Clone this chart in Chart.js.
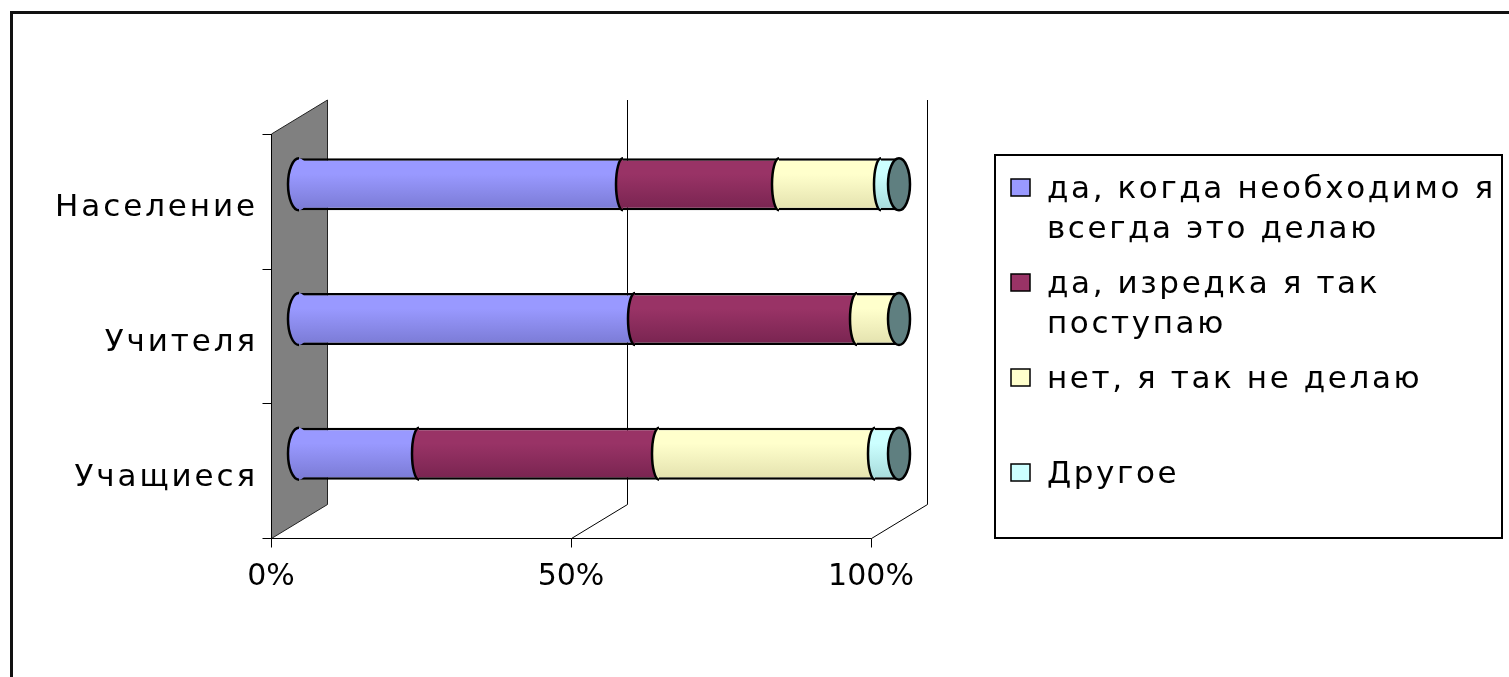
<!DOCTYPE html>
<html>
<head>
<meta charset="utf-8">
<script src="https://cdn.jsdelivr.net/npm/chart.js@4"></script>
<style>
  html, body { margin: 0; padding: 0; background: #fff; }
  canvas { display: block; }
</style>
</head>
<body>
<canvas id="chart" width="1509" height="677"></canvas>
<script>
// values (percent of answers)
const categories = ["Население", "Учителя", "Учащиеся"];
const seriesNames = [
    "да, когда необходимо я всегда это делаю",
    "да, изредка я так поступаю",
    "нет, я так не делаю",
    "Другое"
];
const alwaysValues = [54, 56, 20];
const rarelyValues = [26, 37, 40];
const neverValues = [17, 7, 36];
const otherValues = [3, 0, 4];
const xTicks = [0, 50, 100];

const seriesColors = ["#9999FF", "#993366", "#FFFFCC", "#CCFFFF"];
const seriesShades = ["#7A7AD4", "#782450", "#E3E1AE", "#A6DADA"];
const capColor = "#5F7F80";

const FONT = "DejaVu Sans";
const DX = 28;          // half depth of the 3d box, x
const DY = 17;          // half depth of the 3d box, y
const barShare = 0.386;

function barFill(j){
    return function(context){
        const chart = context.chart;
        const yScale = chart.scales.y;
        if(context.type !== "data" || !yScale){
            return seriesColors[j];
        }
        const band = yScale.height / categories.length;
        const yc = yScale.getPixelForValue(context.dataIndex);
        const half = band * barShare / 2;
        if(!isFinite(yc) || !isFinite(half)){
            return seriesColors[j];
        }
        const g = chart.ctx.createLinearGradient(0, yc - half, 0, yc + half);
        g.addColorStop(0, seriesColors[j]);
        g.addColorStop(0.3, seriesColors[j]);
        g.addColorStop(1, seriesShades[j]);
        return g;
    };
}

function line(ctx, x1, y1, x2, y2){
    ctx.beginPath();
    ctx.moveTo(x1, y1);
    ctx.lineTo(x2, y2);
    ctx.stroke();
}

const framePlugin = {
    id: "frame3d",
    beforeDraw(chart){
        const ctx = chart.ctx;
        ctx.save();
        ctx.strokeStyle = "#111";
        ctx.lineWidth = 3;
        line(ctx, 11.5, 11, 11.5, chart.height);
        line(ctx, 10, 12.5, chart.width, 12.5);
        ctx.restore();
        // y labels are spaced wide like the original
        ctx.letterSpacing = "2.9px";
    },
    beforeDatasetsDraw(chart){
        const ctx = chart.ctx;
        const x = chart.scales.x;
        const a = chart.chartArea;
        const fx = v => Math.round(x.getPixelForValue(v) - DX) + 0.5;
        const bx = v => Math.round(x.getPixelForValue(v) + DX) + 0.5;
        const frontTop = a.top + DY, backTop = a.top - DY;
        const frontBottom = Math.round(a.bottom + DY) + 0.5;
        const backBottom = Math.round(a.bottom - DY) + 0.5;

        ctx.save();
        // side wall
        ctx.fillStyle = "#808080";
        ctx.strokeStyle = "#222";
        ctx.lineWidth = 1;
        ctx.beginPath();
        ctx.moveTo(fx(0), frontTop);
        ctx.lineTo(bx(0), backTop);
        ctx.lineTo(bx(0), backBottom);
        ctx.lineTo(fx(0), frontBottom);
        ctx.closePath();
        ctx.fill();
        ctx.stroke();

        // grid lines on the back wall and floor
        ctx.strokeStyle = "#000";
        xTicks.forEach(v => {
            if(v > 0){
                line(ctx, bx(v), backTop, bx(v), backBottom);
                line(ctx, bx(v), backBottom, fx(v), frontBottom);
            }
            line(ctx, fx(v), frontBottom, fx(v), frontBottom + 9);
        });

        // front axis lines
        line(ctx, fx(0), frontTop, fx(0), frontBottom);
        line(ctx, fx(0), frontBottom, fx(xTicks[xTicks.length - 1]), frontBottom);
        const band = (a.bottom - a.top) / categories.length;
        for(let i = 0; i <= categories.length; i++){
            const yy = Math.round(a.top + DY + band * i) + 0.5;
            line(ctx, fx(0) - 9, yy, fx(0), yy);
        }
        ctx.restore();
    },
    afterDatasetsDraw(chart){
        const ctx = chart.ctx;
        const x = chart.scales.x;
        const sets = chart.data.datasets;
        const metas = sets.map((d, j) => chart.getDatasetMeta(j));

        ctx.save();
        ctx.strokeStyle = "#000";
        ctx.lineWidth = 2.5;
        categories.forEach((c, i) => {
            const first = metas[0].data[i];
            const yc = first.y;
            const ry = first.height / 2;
            let cum = 0;

            // left end of the cylinder
            const x0 = x.getPixelForValue(0);
            ctx.fillStyle = first.options.backgroundColor;
            ctx.beginPath();
            ctx.ellipse(x0, yc, 11, ry, 0, 0, Math.PI * 2);
            ctx.fill();
            ctx.beginPath();
            ctx.ellipse(x0, yc, 11, ry, 0, Math.PI / 2, Math.PI * 1.5);
            ctx.stroke();

            // curved joins between pieces
            sets.forEach((ds, j) => {
                const v = ds.data[i];
                if(j > 0 && v > 0 && cum > 0){
                    const b = x.getPixelForValue(cum);
                    ctx.fillStyle = metas[j].data[i].options.backgroundColor;
                    ctx.beginPath();
                    ctx.ellipse(b, yc, 7, ry, 0, Math.PI / 2, Math.PI * 1.5);
                    ctx.closePath();
                    ctx.fill();
                    ctx.beginPath();
                    ctx.ellipse(b, yc, 7, ry, 0, Math.PI / 2, Math.PI * 1.5);
                    ctx.stroke();
                }
                cum += v;
            });

            // right end cap
            ctx.fillStyle = capColor;
            ctx.beginPath();
            ctx.ellipse(x.getPixelForValue(cum), yc, 11, ry, 0, 0, Math.PI * 2);
            ctx.fill();
            ctx.stroke();
        });
        ctx.restore();
        // x labels are drawn after this, without extra spacing
        ctx.letterSpacing = "0px";
    },
    afterDraw(chart){
        const ctx = chart.ctx;
        const left = 995, top = 155, right = 1502, bottom = 538;
        ctx.save();
        ctx.letterSpacing = "2.6px";
        ctx.strokeStyle = "#000";
        ctx.lineWidth = 2;
        ctx.strokeRect(left, top, right - left, bottom - top);
        ctx.font = "31px '" + FONT + "'";
        ctx.textBaseline = "alphabetic";
        ctx.textAlign = "left";
        chart.data.datasets.forEach((ds, j) => {
            const base = 198 + 95 * j;
            ctx.fillStyle = seriesColors[j];
            ctx.fillRect(1011, base - 19, 19, 17);
            ctx.lineWidth = 1.5;
            ctx.strokeRect(1011, base - 19, 19, 17);

            // simple word wrap
            const words = ds.label.split(" ");
            const lines = [];
            let cur = "";
            words.forEach(w => {
                const t = cur ? cur + " " + w : w;
                if(cur && ctx.measureText(t).width > right - 1047 + 20){
                    lines.push(cur);
                    cur = w;
                }else{
                    cur = t;
                }
            });
            lines.push(cur);
            ctx.fillStyle = "#000";
            lines.forEach((t, k) => ctx.fillText(t, 1047, base + 40 * k));
        });
        ctx.restore();
    }
};

const valueSets = [alwaysValues, rarelyValues, neverValues, otherValues];

new Chart(document.getElementById("chart"), {
    type: "bar",
    data: {
        labels: categories,
        datasets: valueSets.map((vals, j) => ({
            label: seriesNames[j],
            data: vals,
            backgroundColor: barFill(j),
            borderColor: "#000",
            borderWidth: 2.5,
            borderSkipped: "middle",
            barPercentage: barShare,
            categoryPercentage: 1,
            stack: "all"
        }))
    },
    options: {
        indexAxis: "y",
        responsive: false,
        animation: false,
        layout: {
            padding: { top: 117, right: 610, bottom: 0, left: 0 }
        },
        plugins: {
            legend: { display: false },
            tooltip: { enabled: false }
        },
        scales: {
            x: {
                stacked: true,
                min: 0,
                max: 100,
                z: 1,
                grid: { display: false, drawTicks: false },
                border: { display: false },
                afterBuildTicks: s => { s.ticks = xTicks.map(v => ({ value: v })); },
                afterFit: s => { s.height = 156; },
                ticks: {
                    z: 1,
                    maxRotation: 0,
                    autoSkip: false,
                    padding: 38,
                    labelOffset: -DX,
                    color: "#000",
                    font: { family: FONT, size: 30 },
                    callback: v => v + "%"
                }
            },
            y: {
                stacked: true,
                grid: { display: false, drawTicks: false },
                border: { display: false },
                afterFit: s => { s.width = 299; },
                ticks: {
                    padding: 41,
                    labelOffset: 24,
                    color: "#000",
                    font: { family: FONT, size: 31 }
                }
            }
        }
    },
    plugins: [framePlugin]
});
</script>
</body>
</html>
